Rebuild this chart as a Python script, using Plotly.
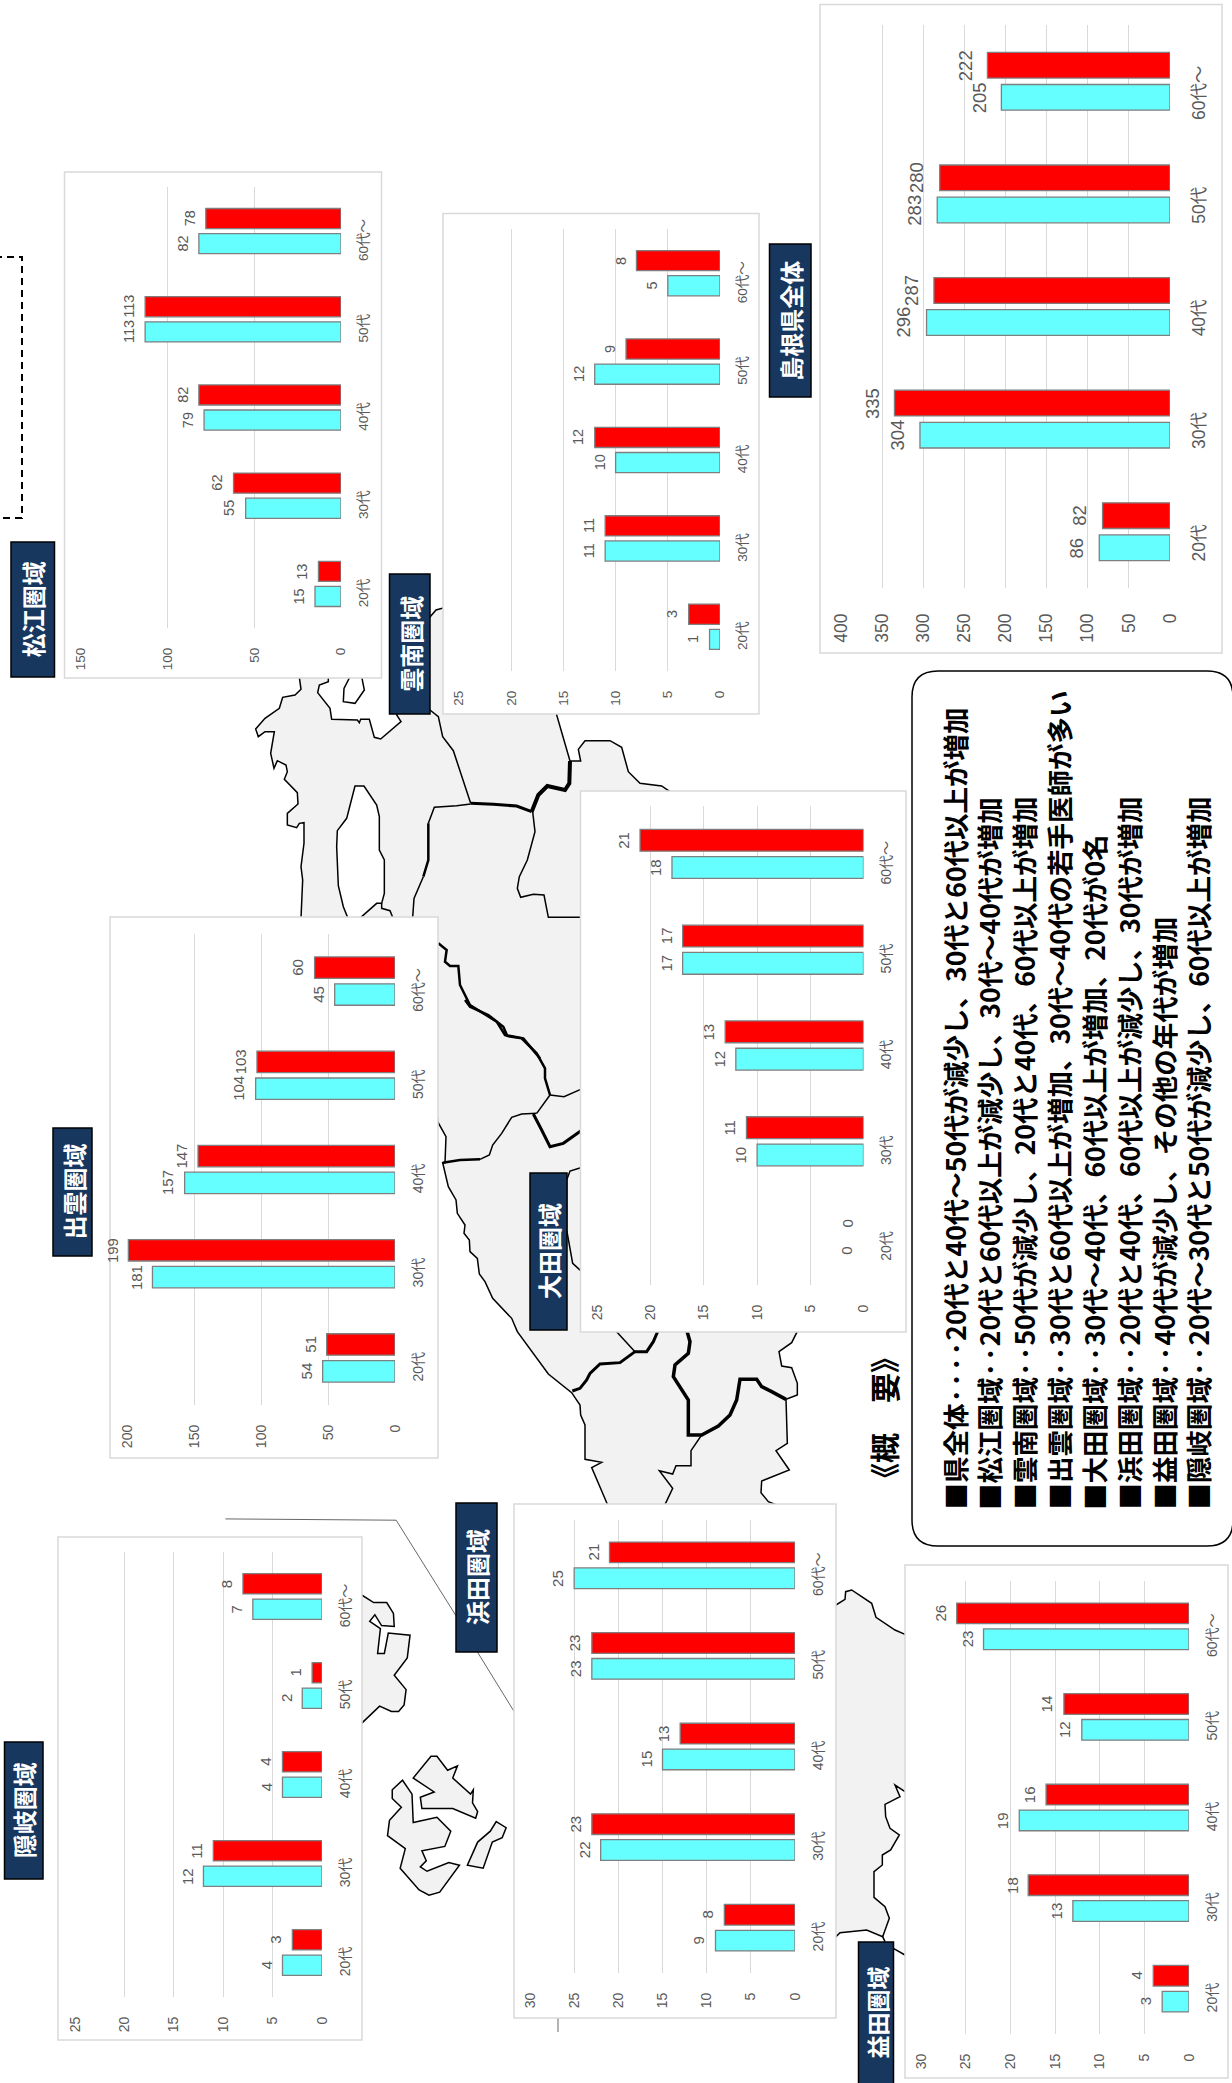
import plotly.graph_objects as go

W, H = 1232, 2083
AGES = ["20代", "30代", "40代", "50代", "60代～"]

# 前回 (cyan) / 今回 (red) の医師数
MATSUE_PREV = [15, 55, 79, 113, 82]
MATSUE_CURR = [13, 62, 82, 113, 78]
UNNAN_PREV = [1, 11, 10, 12, 5]
UNNAN_CURR = [3, 11, 12, 9, 8]
KEN_PREV = [86, 304, 296, 283, 205]
KEN_CURR = [82, 335, 287, 280, 222]
IZUMO_PREV = [54, 181, 157, 104, 45]
IZUMO_CURR = [51, 199, 147, 103, 60]
ODA_PREV = [0, 10, 12, 17, 18]
ODA_CURR = [0, 11, 13, 17, 21]
HAMADA_PREV = [9, 22, 15, 23, 25]
HAMADA_CURR = [8, 23, 13, 23, 21]
MASUDA_PREV = [3, 13, 19, 12, 23]
MASUDA_CURR = [4, 18, 16, 14, 26]
OKI_PREV = [4, 12, 4, 2, 7]
OKI_CURR = [3, 11, 4, 1, 8]

SUMMARY = [
    "■県全体····20代と40代～50代が減少し、30代と60代以上が増加",
    "■松江圏域··20代と60代以上が減少し、30代～40代が増加",
    "■雲南圏域··50代が減少し、20代と40代、60代以上が増加",
    "■出雲圏域··30代と60代以上が増加、30代～40代の若手医師が多い",
    "■大田圏域··30代～40代、60代以上が増加、20代が0名",
    "■浜田圏域··20代と40代、60代以上が減少し、30代が増加",
    "■益田圏域··40代が減少し、その他の年代が増加",
    "■隠岐圏域··20代～30代と50代が減少し、60代以上が増加",
]

# name, prev, curr, axis max, tick step, font, panel box(l,t,r,b), plot(left,zero,top,bottom), title box(l,t,r,b)
PANELS = [
    ("松江圏域", MATSUE_PREV, MATSUE_CURR, 150, 50, 13.5, (64.5, 172, 381.5, 678), (81, 341, 187, 628), (11, 542, 54.5, 677)),
    ("雲南圏域", UNNAN_PREV, UNNAN_CURR, 25, 5, 13.5, (443, 213.5, 759, 714), (459, 720, 229, 671), (389.5, 574, 430, 714)),
    ("島根県全体", KEN_PREV, KEN_CURR, 400, 50, 17.5, (820, 4.5, 1222, 653), (841, 1170, 25, 588), (769.5, 244, 811, 397)),
    ("出雲圏域", IZUMO_PREV, IZUMO_CURR, 200, 50, 14, (110, 917, 438, 1458), (127, 395, 934, 1405), (53, 1128, 92, 1256)),
    ("大田圏域", ODA_PREV, ODA_CURR, 25, 5, 14, (580.5, 791, 906, 1332), (597.5, 863.5, 806, 1285), (530, 1173, 567, 1330)),
    ("浜田圏域", HAMADA_PREV, HAMADA_CURR, 30, 5, 14, (514, 1504, 836, 2018), (530, 795, 1520, 1973), (456, 1503, 497, 1652)),
    ("益田圏域", MASUDA_PREV, MASUDA_CURR, 30, 5, 14, (905, 1565, 1228, 2078), (921, 1189, 1581, 2034), (858.5, 1942, 893.5, 2090)),
    ("隠岐圏域", OKI_PREV, OKI_CURR, 25, 5, 14, (58, 1537, 362, 2040), (75, 322, 1552, 1997), (4.5, 1742, 43, 1879)),
]

FONT = "Liberation Sans, Noto Sans CJK JP, sans-serif"
CJK = "Noto Sans CJK JP, sans-serif"
GREY_TXT = "#595959"


def z7(p): return [(240 + x / 3, 660 + y / 3) for x, y in p]
def z8(p): return [(420 + x / 3, 1000 + y / 3) for x, y in p]
def z9(p): return [(560 + x / 3, 660 + y / 3) for x, y in p]
def z10(p): return [(560 + x / 3, 1320 + y / 3) for x, y in p]
def z11(p): return [(830 + x / 3, 1540 + y / 3) for x, y in p]
def z5(p): return [(x / 2.529, 1400 + y / 2.296) for x, y in p]


def path(pts, close=False):
    s = "M " + " L ".join(f"{x / W:.5f} {1 - y / H:.5f}" for x, y in pts)
    return s + (" Z" if close else "")


MAINLAND = (
    z7([(178, 52), (183, 88), (165, 105), (128, 112), (118, 145), (75, 175), (47, 207), (55, 230), (75, 215),
        (103, 215), (92, 280), (102, 325), (112, 302), (138, 315), (142, 335), (133, 358), (172, 398), (174, 432),
        (142, 460), (142, 495), (170, 503), (178, 490), (192, 488), (192, 550), (183, 620), (188, 660), (183, 775)])
    + [(430, 1000)]
    + z8([(53, 365), (78, 410), (75, 488), (68, 488), (85, 560), (108, 600), (112, 640), (135, 675), (132, 700),
          (148, 720), (150, 755), (172, 775), (178, 822), (195, 845), (218, 895), (275, 955), (292, 995), (385, 1122),
          (455, 1178), (480, 1215), (482, 1245), (495, 1275), (495, 1378), (545, 1387), (515, 1403), (563, 1515)])
    + [(620, 1525), (830, 1930)]
    + z11([(18, 1190), (30, 1178), (110, 1170), (158, 1190), (178, 1135), (165, 1100), (132, 1072), (132, 995),
           (157, 975), (157, 945), (182, 930), (208, 885), (180, 865), (167, 830), (165, 793), (210, 770), (195, 735),
           (225, 755), (235, 760), (235, 285), (225, 283), (195, 270), (138, 232), (125, 190), (65, 150), (47, 155),
           (45, 178), (18, 195)])
    + [(800, 1560)]
    + z10([(650, 555), (625, 545), (603, 518), (605, 483), (688, 450), (648, 392), (682, 370), (678, 238), (712, 225),
           (712, 190), (695, 143), (665, 138), (657, 95), (695, 68), (710, 38), (715, 20)])
    + [(700, 1200)]
    + z9([(330, 395), (305, 378), (240, 370), (205, 335), (185, 262), (150, 242), (75, 242), (55, 268), (62, 303), (30, 303)])
    + z7([(950, 165), (950, 140)])
    + [(443, 608), (436, 610), (430, 617), (420, 640)]
    + z7([(470, 165), (483, 185), (422, 237), (403, 232), (388, 178), (362, 178), (358, 188), (352, 180), (275, 178),
          (270, 145), (233, 98), (238, 75), (265, 65), (265, 45), (178, 45)])
)
LAKE = z7([(345, 378), (372, 378), (410, 435), (418, 470), (418, 570), (433, 600), (433, 700), (425, 730), (410, 730),
           (365, 770), (365, 790), (322, 790), (322, 770), (310, 740), (295, 677), (290, 560), (292, 512), (320, 475)])
LAGOON = z7([(310, 125), (312, 85), (330, 50), (365, 50), (373, 90), (345, 130)])

# (points, width)
BORDERS = [
    (z7([(570, 150), (595, 170), (608, 230), (640, 272), (692, 430)]), 1.5),
    (z7([(692, 430), (760, 433), (830, 438), (875, 455)]), 3),
    (z7([(692, 432), (650, 437), (583, 442), (565, 490)]), 1.5),
    (z7([(565, 490), (565, 600), (550, 650)]), 2.5),
    (z7([(550, 650), (522, 715), (518, 772)]), 1.5),
    (z7([(875, 455), (895, 405), (922, 378), (975, 390), (988, 370), (990, 303)]), 4),
    (z7([(878, 455), (885, 515), (862, 600), (838, 650), (832, 685), (842, 712), (880, 703), (912, 705), (925, 772), (1020, 772)]), 1.5),
    (z7([(595, 850), (620, 870), (615, 905), (630, 918), (655, 918), (660, 975), (690, 1035), (770, 1085), (795, 1125), (850, 1135), (900, 1195)]), 2.5),
    (z8([(135, 0), (150, 20), (205, 45), (250, 80), (262, 108), (305, 115), (350, 160), (375, 205), (375, 235), (390, 285)]), 2.5),
    (z8([(390, 285), (432, 290), (482, 268)]), 1.5),
    (z8([(390, 285), (350, 340)]), 1.5),
    (z8([(350, 340), (305, 342), (275, 352), (245, 400), (218, 435), (208, 465), (180, 478)]), 1.5),
    (z8([(180, 478), (120, 480), (68, 488)]), 2.5),
    (z8([(340, 342), (365, 390), (390, 440), (430, 430), (482, 393)]), 3),
    (z8([(482, 503), (450, 513), (440, 540), (440, 690), (458, 790), (482, 812)]), 1.5),
    (z10([(37, 213), (60, 205), (80, 180), (90, 160), (120, 132), (180, 128), (225, 95), (260, 95), (280, 65), (295, 30)]), 3),
    (z10([(165, 30), (225, 95)]), 1.5),
    (z10([(380, 30), (390, 65), (385, 100), (345, 135), (340, 170), (385, 240), (385, 345), (425, 345), (475, 318), (510, 285), (530, 240), (540, 178), (590, 178), (605, 200), (635, 215), (678, 238)]), 3.5),
    (z10([(425, 345), (393, 392), (393, 437), (348, 437), (338, 462), (298, 452), (338, 505), (312, 560)]), 1.5),
    (z7([(425, 730), (425, 745), (450, 752), (458, 772)]), 1.5),
    (z11([(158, 1190), (165, 1205)]), 1.5),
    (z11([(190, 1225), (225, 1245)]), 1.5),
]
ISLANDS = [
    z5([(900, 448), (915, 448), (945, 465), (978, 465), (995, 490), (997, 520), (965, 518), (948, 493), (935, 508),
        (962, 525), (955, 582), (972, 582), (982, 535), (1037, 540), (1030, 592), (997, 632), (1027, 665), (1022, 700),
        (1008, 715), (990, 715), (960, 703), (915, 742), (900, 742)]),
    z5([(1090, 818), (1105, 818), (1132, 850), (1157, 840), (1145, 868), (1190, 905), (1197, 895), (1195, 925),
        (1208, 945), (1203, 960), (1145, 938), (1067, 938), (1063, 912), (1098, 900), (1045, 868)]),
    z5([(1018, 873), (1042, 905), (1045, 970), (1105, 958), (1140, 990), (1125, 1025), (1067, 1035), (1078, 1058),
        (1063, 1072), (1080, 1082), (1135, 1062), (1162, 1068), (1112, 1130), (1085, 1137), (1060, 1125), (1012, 1075),
        (1025, 1030), (980, 1000), (985, 965), (1015, 935), (992, 915), (992, 895)]),
    z5([(1255, 968), (1280, 982), (1270, 1005), (1245, 1015), (1222, 1075), (1182, 1068), (1208, 1015), (1240, 990)]),
]
LEADERS = [
    z5([(570, 273), (1002, 276), (1153, 495)]),
    z5([(1207, 578), (1300, 715)]),
    [(558, 2018), (558, 2032)],
]
DASHED = [(-5, 257), (22, 257), (22, 518), (-5, 518)]
BOX_L, BOX_T, BOX_R, BOX_B, BOX_RAD = 912, 671, 1233, 1546, 26

shapes = []
shapes.append(dict(type="path", path=path(MAINLAND, True), xref="paper", yref="paper", fillcolor="#F2F2F2",
                   line=dict(color="black", width=1.5), layer="below"))
shapes.append(dict(type="path", path=path(LAKE, True), xref="paper", yref="paper", fillcolor="white",
                   line=dict(color="black", width=1.5), layer="below"))
shapes.append(dict(type="path", path=path(LAGOON, True), xref="paper", yref="paper", fillcolor="white",
                   line=dict(color="black", width=1.5), layer="below"))
for pts, wd in BORDERS:
    shapes.append(dict(type="path", path=path(pts), xref="paper", yref="paper", line=dict(color="black", width=wd), layer="below"))
for pts in ISLANDS:
    shapes.append(dict(type="path", path=path(pts, True), xref="paper", yref="paper", fillcolor="#F2F2F2",
                       line=dict(color="black", width=1.5), layer="below"))
for pts in LEADERS:
    shapes.append(dict(type="path", path=path(pts), xref="paper", yref="paper", line=dict(color="#404040", width=0.8), layer="below"))
shapes.append(dict(type="path", path=path(DASHED), xref="paper", yref="paper", line=dict(color="black", width=2, dash="7px,5px"), layer="below"))

# rounded summary box
bx = lambda x: x / W
by = lambda y: 1 - y / H
l, t, r, b, c = BOX_L, BOX_T, BOX_R, BOX_B, BOX_RAD
shapes.append(dict(
    type="path", xref="paper", yref="paper", layer="below", fillcolor="white", line=dict(color="black", width=1.5),
    path=(f"M {bx(l + c)} {by(t)} L {bx(r - c)} {by(t)} Q {bx(r)} {by(t)} {bx(r)} {by(t + c)} "
          f"L {bx(r)} {by(b - c)} Q {bx(r)} {by(b)} {bx(r - c)} {by(b)} L {bx(l + c)} {by(b)} "
          f"Q {bx(l)} {by(b)} {bx(l)} {by(b - c)} L {bx(l)} {by(t + c)} Q {bx(l)} {by(t)} {bx(l + c)} {by(t)} Z")))

fig = go.Figure()
annotations = []
layout_axes = {}
for i, (name, prev, curr, vmax, step, fs, pbox, plot, tbox) in enumerate(PANELS, start=1):
    sfx = "" if i == 1 else str(i)
    xa, ya = f"x{sfx}", f"y{sfx}"
    band = (plot[3] - plot[2]) / 5
    shapes.append(dict(type="rect", xref="paper", yref="paper", x0=pbox[0] / W, x1=pbox[2] / W, y0=1 - pbox[3] / H, y1=1 - pbox[1] / H,
                       fillcolor="white", line=dict(color="#D9D9D9", width=1.5), layer="below"))
    shapes.append(dict(type="rect", xref="paper", yref="paper", x0=tbox[0] / W, x1=tbox[2] / W, y0=1 - tbox[3] / H, y1=1 - tbox[1] / H,
                       fillcolor="#17375E", line=dict(color="black", width=1.5), layer="above"))
    annotations.append(dict(text=f"<b>{name}</b>", x=(tbox[0] + tbox[2]) / 2 / W, y=1 - (tbox[1] + min(tbox[3], H)) / 2 / H,
                            xref="paper", yref="paper", showarrow=False, textangle=-90, xanchor="center", yanchor="middle",
                            font=dict(family=CJK, size=24 if name != "益田圏域" else 23, color="white")))
    for vals, col, sign in ((prev, "#66FFFF", -1), (curr, "#FF0000", 1)):
        fig.add_trace(go.Bar(y=AGES, x=vals, orientation="h", xaxis=xa, yaxis=ya,
                             marker=dict(color=col, line=dict(color="#7F7F7F", width=[0 if v == 0 else 1.3 for v in vals])),
                             cliponaxis=False, showlegend=False, hoverinfo="skip"))
        for age, v in zip(AGES, vals):
            annotations.append(dict(text=str(v), x=v, y=age, xref=xa, yref=ya, showarrow=False, textangle=-90,
                                    xanchor="right", yanchor="middle", xshift=-(10 if fs > 15 else 6), yshift=sign * band * 0.1425,
                                    font=dict(family=FONT, size=fs + 1, color=GREY_TXT)))
    layout_axes[f"xaxis{sfx}"] = dict(domain=[plot[0] / W, plot[1] / W], range=[vmax, 0], anchor=ya, tickmode="linear", tick0=0, dtick=step,
                                      showgrid=True, gridcolor="#D9D9D9", gridwidth=1.2, zeroline=False, showline=False, ticks="",
                                      tickangle=-90, ticklabelstandoff=int(fs * 1.2), tickfont=dict(family=FONT, size=fs, color=GREY_TXT))
    layout_axes[f"yaxis{sfx}"] = dict(domain=[1 - plot[3] / H, 1 - plot[2] / H], anchor=xa, side="right", type="category",
                                      categoryorder="array", categoryarray=AGES, showgrid=False, zeroline=False, showline=False,
                                      ticks="outside", ticklen=int(fs * 0.75), tickcolor="rgba(0,0,0,0)", ticklabelshift=round(fs * 0.8),
                                      tickangle=-90, tickfont=dict(family=FONT, size=fs, color=GREY_TXT))

LINE_X = [953.5, 988.6, 1023, 1058, 1093, 1128, 1163, 1197]
for line, lx in zip(SUMMARY, LINE_X):
    annotations.append(dict(text=f"<b>{line}</b>", x=lx / W, y=1 - 1512 / H, xref="paper", yref="paper", showarrow=False, textangle=-90,
                            xanchor="center", yanchor="bottom", font=dict(family=CJK, size=26.5, color="black")))
annotations.append(dict(text="<b>《概　要》</b>", x=883 / W, y=1 - 1418 / H, xref="paper", yref="paper", showarrow=False, textangle=-90,
                        xanchor="center", yanchor="middle", font=dict(family=CJK, size=30, color="black")))

fig.update_layout(width=W, height=H, margin=dict(l=0, r=0, t=0, b=0, pad=0, autoexpand=False), paper_bgcolor="white",
                  plot_bgcolor="rgba(0,0,0,0)", barmode="group", bargap=0.43, bargroupgap=0.2, shapes=shapes,
                  annotations=annotations, showlegend=False, **layout_axes)
fig.write_html("out.html", config={"displayModeBar": False},
               post_script="document.body.style.margin='0';document.documentElement.style.overflow='hidden';")
